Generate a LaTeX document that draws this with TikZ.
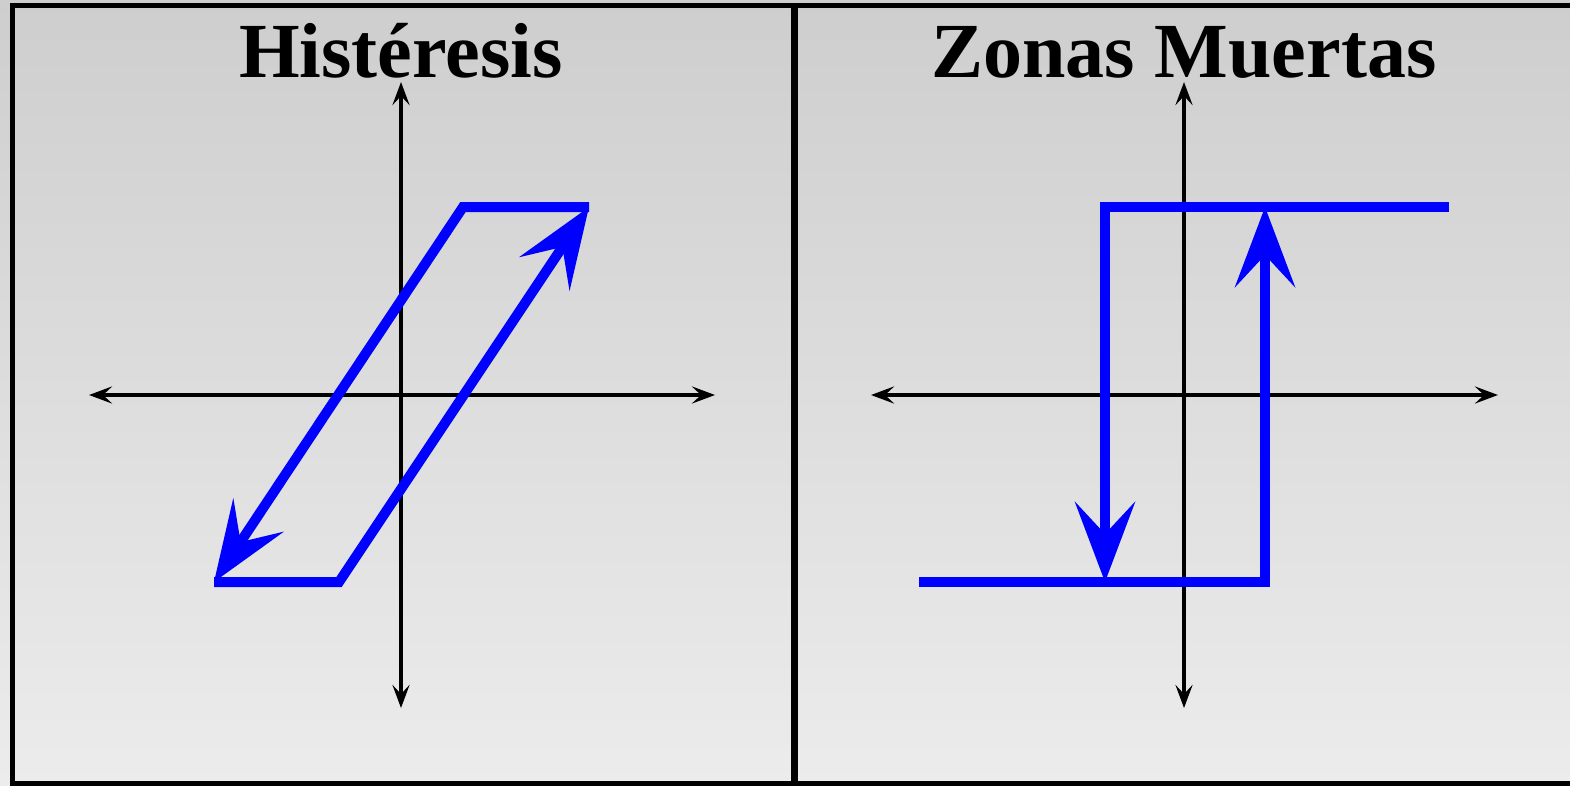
\documentclass[tikz,border=0pt]{standalone}
\usepackage{fontspec}
\setmainfont{Liberation Serif}
\usetikzlibrary{arrows.meta}
\definecolor{bgtop}{RGB}{206,206,206}
\definecolor{bgbot}{RGB}{236,236,236}
\definecolor{curveblue}{RGB}{0,0,255}
\begin{document}
\begin{tikzpicture}[x=1pt,y=-1pt,
  axis/.style={line width=3.5pt,
    {Stealth[length=23pt,width=17pt,inset=9pt]}-{Stealth[length=23pt,width=17pt,inset=9pt]}},
  curve/.style={line width=10pt, draw=curveblue, line join=miter,
    -{Stealth[length=80pt,width=60pt,inset=32pt]}},
  frame/.style={line width=5pt, draw=black},
  title/.style={font=\fontsize{78}{80}\selectfont\bfseries, anchor=base, inner sep=0pt}]
\useasboundingbox (0,0) rectangle (1570,785);
\shade[top color=bgtop, bottom color=bgbot] (0,0) rectangle (1570,785);
% frame
\draw[frame] (12.5,5) rectangle (1580,783.5);
\draw[line width=7pt] (794,5) -- (794,783.5);
% titles
\node[title] (t1) at (401,77) {Histéresis};
\node[title] (t2) at (1184,77) {Zonas Muertas};
% left axes
\coordinate (lxa) at (89,395);
\coordinate (lxb) at (715,395);
\coordinate (lya) at (401,82);
\coordinate (lyb) at (401,708);
\draw[axis] (lxa) -- (lxb);
\draw[axis] (lya) -- (lyb);
% right axes
\coordinate (rxa) at (871,395);
\coordinate (rxb) at (1498,395);
\coordinate (rya) at (1184,82);
\coordinate (ryb) at (1184,708);
\draw[axis] (rxa) -- (rxb);
\draw[axis] (rya) -- (ryb);
% hysteresis
\coordinate (hbl) at (214,582);
\coordinate (hbr) at (339,582);
\coordinate (htl) at (463,207);
\coordinate (htr) at (589,207);
\draw[curve] (hbl) -- (hbr) -- (htr);
\draw[curve] (htr) -- (htl) -- (hbl);
% dead zone
\coordinate (dbl) at (919,582);
\coordinate (dbr) at (1265,582);
\coordinate (dtr) at (1265,207);
\coordinate (dtl) at (1105,207);
\coordinate (dtre) at (1449,207);
\coordinate (dbm) at (1105,582);
\draw[curve] (dbl) -- (dbr) -- (dtr);
\draw[curve] (dtre) -- (dtl) -- (dbm);
\end{tikzpicture}
\end{document}
